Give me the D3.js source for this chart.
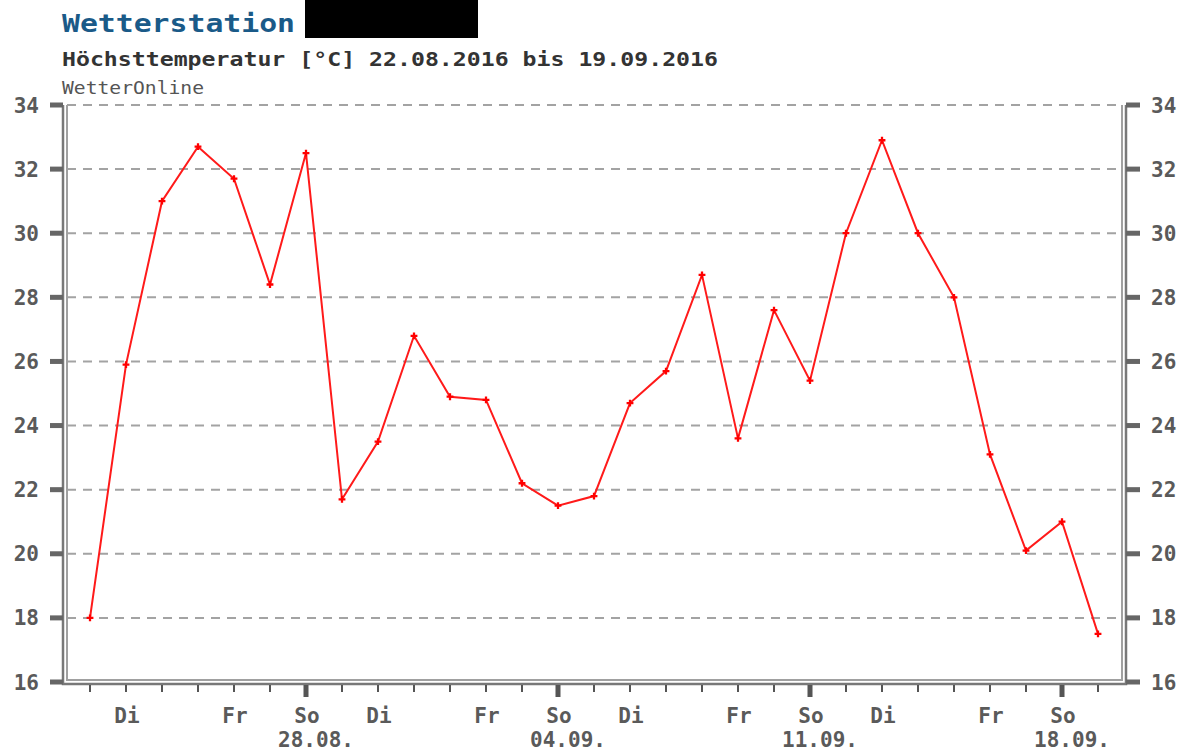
<!DOCTYPE html>
<html>
<head>
<meta charset="utf-8">
<script src="https://cdn.jsdelivr.net/npm/d3@7"></script>
<style>
  body { margin: 0; background: #fff; }
  svg { display: block; }
  text { font-family: "DejaVu Sans Mono", monospace; }
</style>
</head>
<body>
<svg id="chart" width="1187" height="755"></svg>
<script>
// --- data
const startDate = '2016-08-22';
const maxTemps = [
  18.0, 25.9, 31.0, 32.7, 31.7, 28.4, 32.5, 21.7, 23.5, 26.8,
  24.9, 24.8, 22.2, 21.5, 21.8, 24.7, 25.7, 28.7, 23.6, 27.6,
  25.4, 30.0, 32.9, 30.0, 28.0, 23.1, 20.1, 21.0, 17.5
];
const yTicks = [16, 18, 20, 22, 24, 26, 28, 30, 32, 34];
const weekdayNames = ['So', 'Mo', 'Di', 'Mi', 'Do', 'Fr', 'Sa'];
const shownWeekdays = ['Di', 'Fr', 'So'];

const svg = d3.select('#chart');

const parse = d3.timeParse('%Y-%m-%d');
const days = maxTemps.map((v, i) => ({ date: d3.timeDay.offset(parse(startDate), i), value: v }));

const x = d3.scaleTime()
  .domain([days[0].date, days[days.length - 1].date])
  .range([90, 1098]);

const y = d3.scaleLinear()
  .domain([16, 34])
  .range([682, 105]);

const frame = { left: 63, right: 1126, bottom: 684, top: 105 };

// --- header
svg.append('text')
  .attr('x', 62).attr('y', 32)
  .attr('font-size', 24).attr('font-weight', 'bold')
  .attr('fill', '#1a5a88')
  .attr('textLength', 233).attr('lengthAdjust', 'spacingAndGlyphs')
  .text('Wetterstation');

svg.append('rect')
  .attr('x', 305).attr('y', 0)
  .attr('width', 173).attr('height', 38)
  .attr('fill', '#000');

svg.append('text')
  .attr('x', 62).attr('y', 66)
  .attr('font-size', 19).attr('font-weight', 'bold')
  .attr('fill', '#333')
  .attr('textLength', 656).attr('lengthAdjust', 'spacingAndGlyphs')
  .text('Höchsttemperatur [°C] 22.08.2016 bis 19.09.2016');

svg.append('text')
  .attr('x', 62).attr('y', 94)
  .attr('font-size', 17)
  .attr('fill', '#555')
  .attr('textLength', 142).attr('lengthAdjust', 'spacingAndGlyphs')
  .text('WetterOnline');

// --- grid
svg.append('g').selectAll('line')
  .data(yTicks.filter(t => t > 16))
  .enter()
  .append('line')
  .attr('x1', frame.left + 4).attr('x2', frame.right - 4)
  .attr('y1', d => y(d)).attr('y2', d => y(d))
  .attr('stroke', '#a3a3a3')
  .attr('stroke-width', 2)
  .attr('stroke-dasharray', '9,7');

// --- frame (double line)
svg.append('path')
  .attr('d', `M${frame.left},${frame.top} V${frame.bottom} H${frame.right} V${frame.top}`)
  .attr('fill', 'none').attr('stroke', '#787878').attr('stroke-width', 2.5);
svg.append('path')
  .attr('d', `M${frame.left + 4},${frame.top} V${frame.bottom - 4} H${frame.right - 4} V${frame.top}`)
  .attr('fill', 'none').attr('stroke', '#a0a0a0').attr('stroke-width', 2);

// --- y axes (left + right)
const yAxisL = svg.append('g');
yAxisL.selectAll('rect')
  .data(yTicks).enter().append('rect')
  .attr('x', 50).attr('y', d => y(d) - 2.5)
  .attr('width', 13).attr('height', 5)
  .attr('fill', '#666');
yAxisL.selectAll('text')
  .data(yTicks).enter().append('text')
  .attr('x', 39).attr('y', d => y(d) + 7.5)
  .attr('text-anchor', 'end')
  .attr('font-size', 21).attr('font-weight', 'bold')
  .attr('fill', '#5a5a5a')
  .text(d => d);

const yAxisR = svg.append('g');
yAxisR.selectAll('rect')
  .data(yTicks).enter().append('rect')
  .attr('x', 1126).attr('y', d => y(d) - 2.5)
  .attr('width', 14).attr('height', 5)
  .attr('fill', '#666');
yAxisR.selectAll('text')
  .data(yTicks).enter().append('text')
  .attr('x', 1151).attr('y', d => y(d) + 7.5)
  .attr('text-anchor', 'start')
  .attr('font-size', 21).attr('font-weight', 'bold')
  .attr('fill', '#5a5a5a')
  .text(d => d);

// --- x axis
const xAxis = svg.append('g');
const isSunday = d => d.date.getDay() === 0;

xAxis.selectAll('rect')
  .data(days).enter().append('rect')
  .attr('x', d => x(d.date) - (isSunday(d) ? 2.5 : 1))
  .attr('y', 685)
  .attr('width', d => isSunday(d) ? 5 : 2)
  .attr('height', d => isSunday(d) ? 12 : 7)
  .attr('fill', '#555');

xAxis.selectAll('.dayLabel')
  .data(days.filter(d => shownWeekdays.includes(weekdayNames[d.date.getDay()])))
  .enter().append('text')
  .attr('class', 'dayLabel')
  .attr('x', d => x(d.date) + 1)
  .attr('y', 723)
  .attr('text-anchor', 'middle')
  .attr('font-size', 21).attr('font-weight', 'bold')
  .attr('fill', '#5a5a5a')
  .text(d => weekdayNames[d.date.getDay()]);

const fmtDate = d3.timeFormat('%d.%m.');
xAxis.selectAll('.dateLabel')
  .data(days.filter(isSunday))
  .enter().append('text')
  .attr('class', 'dateLabel')
  .attr('x', d => x(d.date) + 10)
  .attr('y', 747)
  .attr('text-anchor', 'middle')
  .attr('font-size', 21).attr('font-weight', 'bold')
  .attr('fill', '#5a5a5a')
  .text(d => fmtDate(d.date));

// --- series
const line = d3.line()
  .x(d => x(d.date))
  .y(d => y(d.value));

svg.append('path')
  .datum(days)
  .attr('d', line)
  .attr('fill', 'none')
  .attr('stroke', '#ff1a1a')
  .attr('stroke-width', 2);

svg.append('g').selectAll('path')
  .data(days).enter().append('path')
  .attr('transform', d => `translate(${x(d.date)},${y(d.value)})`)
  .attr('d', d3.symbol(d3.symbolCross, 26))
  .attr('fill', '#ff0000');
</script>
</body>
</html>
